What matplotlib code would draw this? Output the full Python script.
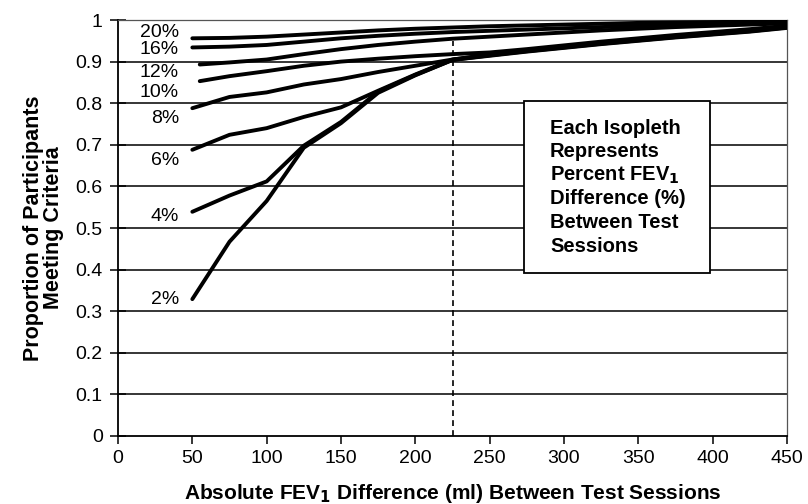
import matplotlib
matplotlib.use("Agg")
import matplotlib.pyplot as plt
from matplotlib.patches import Rectangle

plt.rcParams['font.family'] = ['Liberation Sans', 'DejaVu Sans']

# ---- data ----
x_std = [50, 75, 100, 125, 150, 175, 200, 225, 250, 275, 300, 325, 350, 375, 400, 425, 450]
x_late = [55, 75, 100, 125, 150, 175, 200, 225, 250, 275, 300, 325, 350, 375, 400, 425, 450]

p20 = [0.956, 0.957, 0.960, 0.965, 0.970, 0.975, 0.979, 0.982, 0.985, 0.987, 0.989, 0.991, 0.993, 0.994, 0.995, 0.996, 0.997]
p16 = [0.934, 0.936, 0.940, 0.948, 0.956, 0.962, 0.967, 0.971, 0.974, 0.977, 0.980, 0.983, 0.986, 0.988, 0.990, 0.992, 0.994]
p12 = [0.893, 0.898, 0.905, 0.918, 0.930, 0.940, 0.948, 0.955, 0.960, 0.965, 0.970, 0.975, 0.979, 0.983, 0.986, 0.989, 0.992]
p10 = [0.853, 0.865, 0.877, 0.890, 0.900, 0.907, 0.913, 0.918, 0.922, 0.930, 0.939, 0.948, 0.956, 0.964, 0.971, 0.978, 0.986]
p8 = [0.788, 0.815, 0.826, 0.845, 0.858, 0.875, 0.890, 0.905, 0.917, 0.927, 0.936, 0.945, 0.953, 0.961, 0.968, 0.975, 0.984]
p6 = [0.688, 0.724, 0.740, 0.767, 0.790, 0.830, 0.869, 0.905, 0.916, 0.926, 0.935, 0.944, 0.952, 0.960, 0.967, 0.974, 0.983]
p4 = [0.539, 0.578, 0.612, 0.698, 0.755, 0.828, 0.868, 0.904, 0.915, 0.925, 0.934, 0.943, 0.951, 0.959, 0.966, 0.973, 0.982]
p2 = [0.329, 0.467, 0.565, 0.693, 0.752, 0.825, 0.867, 0.904, 0.914, 0.924, 0.933, 0.942, 0.950, 0.958, 0.965, 0.972, 0.981]

series_labels = ['20%', '16%', '12%', '10%', '8%', '6%', '4%', '2%']
series_x = [x_std, x_std, x_late, x_late, x_std, x_std, x_std, x_std]
series_y = [p20, p16, p12, p10, p8, p6, p4, p2]

x_ticks = [0, 50, 100, 150, 200, 250, 300, 350, 400, 450]
y_ticks = [0, 0.1, 0.2, 0.3, 0.4, 0.5, 0.6, 0.7, 0.8, 0.9, 1]
y_tick_labels = ['0', '0.1', '0.2', '0.3', '0.4', '0.5', '0.6', '0.7', '0.8', '0.9', '1']
cut_x = 225

box_lines = ['Each Isopleth', 'Represents', r'Percent FEV$_\mathbf{1}$',
             'Difference (%)', 'Between Test', 'Sessions']

# ---- figure ----
fig = plt.figure(figsize=(8.08, 5.04), dpi=100)
ax = fig.add_axes([118/808, 1-436/504, (787-118)/808, (436-20)/504])

ax.set_xlim(0, 450)
ax.set_ylim(0, 1)

for v in y_ticks[1:-1]:
    ax.axhline(v, color='black', lw=1.1, zorder=1)

ax.vlines(cut_x, 0, 0.95, colors='black', lw=1.2, linestyles=(0, (3.5, 2.5)), zorder=2)

for xs, ys in zip(series_x, series_y):
    ax.plot(xs, ys, color='black', lw=2.8, solid_capstyle='round', solid_joinstyle='round', zorder=3)

# series labels (hand placed as in original)
label_y = [0.971, 0.930, 0.873, 0.825, 0.764, 0.663, 0.527, 0.327]
for lab, ly in zip(series_labels, label_y):
    ax.text(41, ly, lab, ha='right', va='center', fontsize=14, zorder=4)

ax.set_xticks(x_ticks)
ax.set_xticklabels([str(t) for t in x_ticks])
ax.set_yticks(y_ticks)
ax.set_yticklabels(y_tick_labels)
ax.tick_params(axis='y', direction='inout', length=12, width=1.1, labelsize=14, pad=5)
ax.tick_params(axis='x', direction='out', length=6, width=1.1, labelsize=14, pad=4)

for s in ['left', 'bottom']:
    ax.spines[s].set_color('black')
    ax.spines[s].set_linewidth(1.3)
for s in ['top', 'right']:
    ax.spines[s].set_color('#555555')
    ax.spines[s].set_linewidth(0.9)

ax.set_xlabel(r'Absolute FEV$_\mathbf{1}$ Difference (ml) Between Test Sessions',
              fontsize=15, fontweight='bold', labelpad=11)
ax.set_ylabel('Proportion of Participants\nMeeting Criteria', fontsize=15.5,
              fontweight='bold', labelpad=8, linespacing=0.95)

# annotation box
bx0, by0 = (524-118)/669, (436-273)/416
bw, bh = (710-524)/669, (273-101)/416
ax.add_patch(Rectangle((bx0, by0), bw, bh, transform=ax.transAxes,
                       facecolor='white', edgecolor='black', lw=1.3, zorder=5))
for i, line in enumerate(box_lines):
    ax.text((550-118)/669, (436-128)/416 - i*23.6/416, line, transform=ax.transAxes,
            ha='left', va='center', fontsize=14.5, fontweight='bold', zorder=6)

fig.savefig('out.png', dpi=100)
